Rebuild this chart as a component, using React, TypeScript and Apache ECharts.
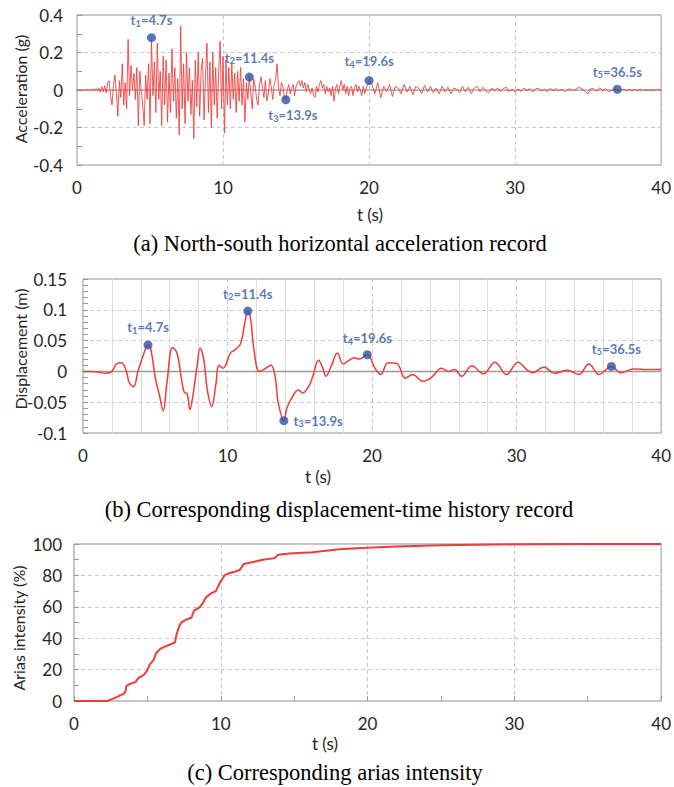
import React, { useEffect, useRef } from "react";
import * as echarts from "echarts";

// Acceleration (g), sampled every 0.1 s from 0 to 20 s
const accelEarly: number[] = [
  0, 0, 0, 0, 0,
  0.002, -0.003, 0.004, -0.002, 0.005, -0.004,
  0.006, -0.005, 0.008, -0.006, 0.01,
  -0.012, 0.018, -0.01, 0.022, -0.015,
  0.04, 0.05, -0.03, -0.08, 0.03,
  0.08, -0.02, -0.14, 0.05, -0.04,
  0.14, -0.08, 0.04, -0.1, 0.27,
  -0.03, 0.13, 0.0, 0.09, -0.05,
  0.12, -0.19, 0.1, 0.0, -0.08,
  -0.19, 0.08, -0.05, 0.14, -0.18,
  0.27, -0.03, 0.15, -0.12, 0.25,
  -0.05, 0.1, -0.19, 0.18, -0.08,
  0.16, -0.17, 0.09, -0.12, 0.22,
  -0.06, 0.12, -0.15, 0.06, -0.24,
  0.34, -0.1, 0.14, -0.18, 0.2,
  -0.06, 0.12, -0.13, 0.05, -0.26,
  0.16, -0.09, 0.2, -0.14, 0.1,
  0.17, -0.16, 0.08, 0.25, -0.12,
  0.15, -0.2, 0.2, -0.08, 0.12,
  -0.15, 0.1, 0.26, -0.1, 0.18,
  -0.23, 0.16, -0.08, 0.12, -0.1,
  0.14, -0.05, 0.09, -0.12, 0.1,
  -0.06, 0.12, -0.08, 0.06, -0.17,
  0.04, -0.05, 0.07, -0.02, -0.1,
  0.06, 0.02, -0.05, -0.08, 0.03,
  0.07, 0.01, -0.04, 0.05, -0.06,
  -0.02, 0.06, 0.02, -0.05, 0.03,
  0.06, 0.14, 0.01, -0.03, 0.04,
  0.02, -0.04, -0.05, 0.0, 0.03,
  -0.02, 0.01, 0.03, -0.03, 0.02,
  0.04, 0.05, 0.02, 0.05, 0.01,
  0.04, -0.01, 0.03, 0.0, -0.02,
  0.01, -0.03, -0.04, 0.02, -0.01,
  0.03, 0.05, 0.01, 0.03, -0.02,
  0.02, -0.01, 0.01, -0.03, 0.02,
  -0.06, 0.01, 0.03, -0.02, 0.02,
  0.05, 0.0, 0.03, -0.02, 0.02,
  -0.03, 0.01, 0.02, -0.03, 0.01,
  0.03, -0.01, 0.02, 0.0, -0.03,
  0.02, -0.02, 0.01, 0.03, 0.05,
];

// Acceleration (g), sampled every 0.2 s from 20.2 to 40 s
const accelLate: number[] = [
  0.03, -0.02, 0.04, -0.04, 0.02,
  -0.01, 0.03, -0.035, 0.02, 0.01,
  -0.02, 0.03, -0.01, 0.02, -0.025,
  0.02, 0.01, -0.02, 0.025, -0.01,
  0.02, -0.015, 0.01, -0.02, 0.02,
  -0.01, 0.015, -0.02, 0.01, 0.005,
  -0.015, 0.02, -0.01, 0.015, -0.02,
  0.01, 0.02, -0.01, 0.015, -0.005,
  -0.015, 0.01, -0.005, 0.012, -0.01,
  0.008, 0.015, -0.01, 0.005, -0.012,
  0.006, -0.008, 0.01, -0.005, 0.008,
  -0.01, 0.005, 0.01, -0.006, 0.004,
  -0.008, 0.01, -0.004, 0.008, -0.006,
  0.005, -0.01, 0.006, 0.004, -0.005,
  0.008, 0.015, 0.005, -0.008, -0.02,
  0.01, 0.005, -0.006, 0.012, -0.004,
  0.006, -0.008, -0.003, 0.004, 0.004,
  -0.004, 0.005, -0.003, 0.004, -0.002,
  0.003, -0.002, 0.004, -0.002, 0.002,
  -0.002, 0.003, -0.001, 0.002, 0.0,
];

// Displacement (m): [t (s), value]
const displacement: [number, number][] = [
  [0, 0], [0.5, 0], [1.0, -0.001], [1.6, -0.003], [2.0, 0], [2.3, 0.012], [2.65, 0.014],
  [3.0, 0.0], [3.2, -0.018], [3.5, -0.025], [3.8, 0.0], [4.15, 0.025], [4.5, 0.043],
  [4.7, 0.035], [5.0, -0.01], [5.3, -0.04], [5.55, -0.064], [5.8, -0.02], [6.2, 0.039],
  [6.5, 0.03], [6.8, -0.01], [7.0, -0.034], [7.2, -0.036], [7.4, -0.062], [7.6, -0.04],
  [7.9, 0.01], [8.1, 0.038], [8.35, 0.02], [8.6, -0.03], [8.9, -0.057], [9.2, -0.02],
  [9.4, 0.01], [9.7, 0.005], [9.9, 0.012], [10.2, 0.03], [10.5, 0.035], [10.9, 0.045],
  [11.2, 0.08], [11.4, 0.098], [11.6, 0.085], [11.8, 0.04], [12.2, 0.0], [12.5, 0.003],
  [13.0, 0.01], [13.3, -0.01], [13.5, -0.05], [13.9, -0.08], [14.1, -0.06], [14.4, -0.045],
  [14.9, -0.03], [15.2, -0.035], [15.6, -0.025], [15.9, -0.008], [16.3, 0.018], [16.6, 0.005],
  [16.8, -0.008], [17.2, 0.01], [17.6, 0.03], [18.0, 0.012], [18.4, 0.018], [18.8, 0.022],
  [19.1, 0.02], [19.67, 0.027], [20.2, 0.005], [20.6, -0.005], [21.1, 0.014], [21.7, 0.013],
  [22.3, -0.011], [22.8, -0.005], [23.5, -0.016], [24.1, -0.01], [24.8, 0.005], [25.3, 0.0],
  [25.7, 0.003], [26.2, -0.008], [26.9, 0.009], [27.7, -0.004], [28.5, 0.015], [29.3, -0.005],
  [30.1, 0.015], [30.7, 0.003], [31.1, -0.002], [31.9, 0.007], [32.6, -0.003], [33.5, 0.002],
  [34.3, -0.005], [35.0, 0.012], [35.7, -0.005], [36.56, 0.008], [37.2, -0.002], [38.1, 0.004],
  [39.0, 0.003], [40, 0.003],
];

// Arias intensity (%): [t (s), value]
const arias: [number, number][] = [
  [0, 0], [2.26, 0], [2.5, 0.9], [2.93, 2.6], [3.39, 4.7], [3.5, 6], [3.57, 9.6], [3.84, 11],
  [4.18, 12], [4.4, 14.7], [4.74, 16.5], [5.0, 19.6], [5.15, 23.2], [5.42, 26], [5.6, 30.6],
  [5.9, 33.4], [6.14, 34.5], [6.55, 36], [6.88, 37.3], [7.0, 43], [7.18, 48], [7.34, 50.2],
  [7.67, 52], [8.0, 53], [8.17, 57.5], [8.53, 59.4], [8.76, 62], [8.98, 65.9], [9.32, 68.5],
  [9.66, 70], [9.93, 75.3], [10.27, 80.2], [10.6, 81.5], [11.0, 82.5], [11.3, 83.5],
  [11.56, 87.2], [12.2, 88.5], [12.87, 90], [13.66, 91], [13.9, 93.2], [14.67, 94],
  [16.25, 94.8], [18.06, 96.6], [19.9, 97.6], [22, 98.4], [25, 99.2], [30, 99.8], [35, 100], [40, 100],
];

// Marked instants
const markerSubs = ["1", "2", "3", "4", "5"];
const markerTimes = ["4.7", "11.4", "13.9", "19.6", "36.5"];
const accelMarkerX = [5.1, 11.8, 14.3, 20.0, 37.0];
const accelMarkerY = [0.279, 0.069, -0.052, 0.05, 0.004];
const dispMarkerX = [4.5, 11.4, 13.9, 19.67, 36.56];
const dispMarkerY = [0.043, 0.098, -0.08, 0.027, 0.008];

const FONT = "Lato, 'Open Sans', sans-serif";
const SERIF = "'Liberation Serif', 'DejaVu Serif', serif";
const BLUE = "#2f55a4";
const RED = "#f23a3a";
const TEXT = "#262626";

export default function App() {
  const ref = useRef<HTMLDivElement>(null);

  useEffect(() => {
    if (!ref.current) return;
    const chart = echarts.init(ref.current, null, { renderer: "svg" });

    const accelData = [
      ...accelEarly.map((v, i) => [i / 10, v]),
      ...accelLate.map((v, i) => [Math.round((20.2 + i * 0.2) * 100) / 100, v]),
    ];

    const labelFmt = (i: number) => `{n|t}{s|${markerSubs[i]}}{n|=${markerTimes[i]}s}`;
    const rich = {
      n: { fontFamily: FONT, fontSize: 13, fontWeight: "bold", color: BLUE, lineHeight: 16 },
      s: { fontFamily: FONT, fontSize: 9.5, fontWeight: "bold", color: BLUE, lineHeight: 9, verticalAlign: "bottom" },
    };

    const accelLabelPos: any[] = [
      { position: "top", distance: 5 },
      { position: "top", distance: 7 },
      { position: "bottom", distance: 3, offset: [7, 0] },
      { position: "top", distance: 7 },
      { position: "top", distance: 5 },
    ];
    const dispLabelPos: any[] = [
      { position: "top", distance: 5 },
      { position: "top", distance: 5 },
      { position: "right", distance: 5 },
      { position: "top", distance: 4 },
      { position: "top", distance: 5, offset: [5, 0] },
    ];

    const markerData = (xs: number[], ys: number[], pos: any[]) =>
      xs.map((x, i) => ({
        value: [x, ys[i]],
        label: { show: true, formatter: labelFmt(i), rich, ...pos[i] },
      }));

    const axisLabel = { fontFamily: FONT, fontSize: 17, color: TEXT };
    const dashed = { show: true, lineStyle: { color: "#c8c8c8", type: [4, 3] as any, width: 1 } };

    const mkX = (gridIndex: number, extra: any = {}) => ({
      type: "value",
      gridIndex,
      min: 0,
      max: 40,
      interval: 10,
      axisLine: { show: false },
      axisTick: { show: false },
      axisLabel: { ...axisLabel, margin: 14 },
      splitLine: dashed,
      ...extra,
    });
    const mkY = (gridIndex: number, min: number, max: number, interval: number, minorSplit: number, margin: number, fmt?: any) => ({
      type: "value",
      gridIndex,
      min,
      max,
      interval,
      axisLine: { show: false },
      axisTick: { show: true, inside: true, length: 5, lineStyle: { color: "#999" } },
      minorTick: { show: true, splitNumber: minorSplit, length: 5, lineStyle: { color: "#999" } },
      axisLabel: { ...axisLabel, margin, formatter: fmt },
      splitLine: dashed,
    });

    const gridBase = { show: true, borderColor: "#8f8f8f", borderWidth: 1, backgroundColor: "transparent", containLabel: false };
    const yTitle = (text: string, x: number, y: number) => ({
      type: "text", x, y, rotation: Math.PI / 2,
      style: { text, font: `16px ${FONT}`, fill: TEXT, align: "center", verticalAlign: "middle" },
    });
    const plain = (text: string, x: number, y: number, font: string, fill: string) => ({
      type: "text", x, y, style: { text, font, fill, align: "center", verticalAlign: "middle" },
    });

    const option: any = {
      animation: false,
      backgroundColor: "#ffffff",
      grid: [
        { ...gridBase, left: 77, top: 15, width: 588, height: 150 },
        { ...gridBase, left: 83, top: 279, width: 581, height: 154 },
        { ...gridBase, left: 74, top: 544, width: 591, height: 157 },
      ],
      xAxis: [
        mkX(0),
        mkX(1, {
          minorTick: { show: false, splitNumber: 5 },
          minorSplitLine: { show: true, lineStyle: { color: "#dedede", width: 1 } },
        }),
        mkX(2, {
          axisTick: { show: true, inside: true, length: 5, lineStyle: { color: "#999" } },
          minorTick: { show: true, splitNumber: 2, length: 5, lineStyle: { color: "#999" } },
        }),
      ],
      yAxis: [
        mkY(0, -0.4, 0.4, 0.2, 2, 14, (v: number) => (Math.abs(v) < 1e-9 ? "0" : String(Math.round(v * 10) / 10))),
        mkY(1, -0.1, 0.15, 0.05, 5, 16, (v: number) => (Math.abs(v) < 1e-9 ? "0" : String(Math.round(v * 100) / 100))),
        mkY(2, 0, 100, 20, 2, 12),
      ],
      series: [
        {
          type: "line", xAxisIndex: 0, yAxisIndex: 0, data: [[0, 0], [40, 0]], symbol: "none", silent: true,
          lineStyle: { color: "#8a8a8a", width: 1 }, z: 1,
        },
        {
          type: "line", xAxisIndex: 0, yAxisIndex: 0, data: accelData, symbol: "none", silent: true,
          lineStyle: { color: RED, width: 1, opacity: 0.85 }, z: 2,
        },
        {
          type: "scatter", xAxisIndex: 0, yAxisIndex: 0, symbolSize: 9, itemStyle: { color: BLUE }, z: 3,
          data: markerData(accelMarkerX, accelMarkerY, accelLabelPos),
        },
        {
          type: "line", xAxisIndex: 1, yAxisIndex: 1, data: [[0, 0], [40, 0]], symbol: "none", silent: true,
          lineStyle: { color: "#9a9a9a", width: 1.5 }, z: 1,
        },
        {
          type: "line", xAxisIndex: 1, yAxisIndex: 1, data: displacement, symbol: "none", silent: true, smooth: 0.4,
          lineStyle: { color: RED, width: 1.5 }, z: 2,
        },
        {
          type: "scatter", xAxisIndex: 1, yAxisIndex: 1, symbolSize: 9, itemStyle: { color: BLUE }, z: 3,
          data: markerData(dispMarkerX, dispMarkerY, dispLabelPos),
        },
        {
          type: "line", xAxisIndex: 2, yAxisIndex: 2, data: arias, symbol: "none", silent: true,
          lineStyle: { color: RED, width: 2 }, z: 2,
        },
      ],
      graphic: [
        yTitle("Acceleration (g)", 20, 89),
        yTitle("Displacement (m)", 20, 349),
        yTitle("Arias intensity (%)", 18, 628),
        plain("t (s)", 370, 214, `17px ${FONT}`, TEXT),
        plain("t (s)", 318, 476, `17px ${FONT}`, TEXT),
        plain("t (s)", 325, 743, `17px ${FONT}`, TEXT),
        plain("(a) North-south horizontal acceleration record", 340, 243, `22.5px ${SERIF}`, "#000"),
        plain("(b) Corresponding displacement-time history record", 339, 509, `22.5px ${SERIF}`, "#000"),
        plain("(c) Corresponding arias intensity", 335, 772, `22.5px ${SERIF}`, "#000"),
      ],
    };
    chart.setOption(option);
    return () => chart.dispose();
  }, []);

  return <div ref={ref} style={{ position: "absolute", left: 0, top: 0, width: 674, height: 787, background: "#fff" }} />;
}
